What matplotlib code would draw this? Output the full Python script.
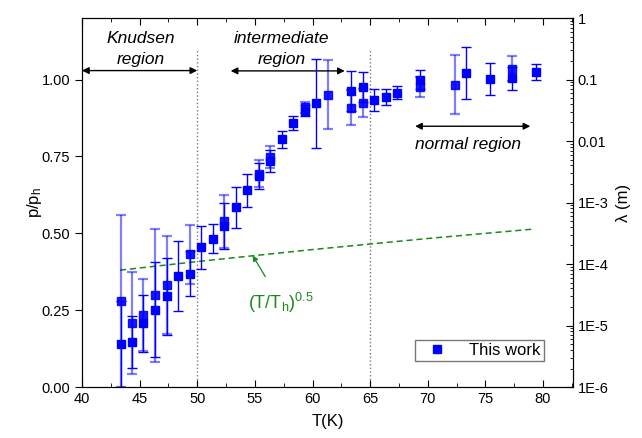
import matplotlib
matplotlib.use("Agg")
import matplotlib.pyplot as plt

plt.rcParams['font.family'] = ['Liberation Sans', 'DejaVu Sans']
plt.rcParams['mathtext.fontset'] = 'custom'
plt.rcParams['mathtext.rm'] = 'Liberation Sans'
plt.rcParams['mathtext.it'] = 'Liberation Sans:italic'

# first measurement set (solid error bars)
T_a = [43.36, 44.3, 45.3, 46.36, 47.35, 48.33, 49.35, 50.33, 51.34, 52.3,
       53.34, 54.35, 55.36, 56.35, 57.36, 58.35, 59.33, 60.34, 63.32, 64.36,
       65.37, 66.36, 67.34, 69.37, 73.36, 75.36, 77.35, 79.35]
p_a = [0.140, 0.147, 0.207, 0.252, 0.295, 0.361, 0.369, 0.454, 0.482, 0.523,
       0.584, 0.640, 0.686, 0.735, 0.805, 0.858, 0.899, 0.923, 0.964, 0.976,
       0.934, 0.943, 0.957, 0.999, 1.022, 1.002, 1.004, 1.024]
err_a = [0.140, 0.085, 0.092, 0.156, 0.125, 0.113, 0.073, 0.069, 0.047, 0.075,
         0.067, 0.054, 0.043, 0.035, 0.028, 0.022, 0.018, 0.145, 0.065, 0.048,
         0.035, 0.027, 0.022, 0.031, 0.084, 0.053, 0.038, 0.027]

# second measurement set (faded error bars)
T_b = [43.36, 44.3, 45.3, 46.36, 47.35, 49.35, 52.3, 55.36, 56.35, 59.33,
       61.35, 63.32, 64.36, 69.37, 72.35, 77.35]
p_b = [0.279, 0.207, 0.233, 0.298, 0.331, 0.431, 0.539, 0.694, 0.748, 0.910,
       0.951, 0.908, 0.924, 0.975, 0.983, 1.035]
err_b = [0.279, 0.166, 0.117, 0.217, 0.160, 0.097, 0.087, 0.043, 0.037, 0.018,
         0.113, 0.057, 0.045, 0.032, 0.096, 0.040]

# (T/Th)^0.5 guide line
T_sq = [43.3, 50.0, 60.0, 70.0, 79.3]
p_sq = [0.380, 0.408, 0.447, 0.483, 0.514]

blue = '#0000ff'
green = '#1a8a1a'

fig = plt.figure(figsize=(6.42, 4.38), dpi=100)
ax = fig.add_axes([0.1277, 0.1164, 0.7648, 0.8425])

ax.errorbar(T_b, p_b, yerr=err_b, fmt='none', ecolor=blue, alpha=0.5,
            elinewidth=1.6, capsize=3.5, capthick=1.6, zorder=2)
ax.plot(T_b, p_b, 's', color=blue, ms=6, alpha=0.9, zorder=3)
ax.errorbar(T_a, p_a, yerr=err_a, fmt='none', ecolor=blue,
            elinewidth=1.0, capsize=3.5, capthick=1.0, zorder=4)
ax.plot(T_a, p_a, 's', color=blue, ms=6, zorder=5, label='This work')

ax.plot(T_sq, p_sq, '--', color=green, lw=1.1, dashes=(4, 2.5), zorder=1)
ax.annotate('(T/T$_{\\rm h}$)$^{0.5}$', xy=(54.8, 0.428), xytext=(57.3, 0.272),
            color=green, fontsize=13, ha='center', va='center',
            arrowprops=dict(arrowstyle='-|>', color=green, lw=0.9,
                            mutation_scale=8, shrinkA=10, shrinkB=0))

# region boundaries
for tb in (50, 65):
    ax.plot([tb, tb], [0, 1.10], ':', color='#777777', lw=1.0, zorder=0)

arrow = dict(arrowstyle='<|-|>', color='black', lw=1.0, mutation_scale=10,
             shrinkA=0, shrinkB=0)
ax.annotate('', xy=(40, 1.029), xytext=(50, 1.029), arrowprops=arrow)
ax.annotate('', xy=(52.9, 1.028), xytext=(62.8, 1.028), arrowprops=arrow)
ax.annotate('', xy=(68.9, 0.848), xytext=(78.9, 0.848), arrowprops=arrow)
ax.text(45.1, 1.098, 'Knudsen\nregion', style='italic', fontsize=12.5,
        ha='center', va='center', linespacing=1.5)
ax.text(57.3, 1.098, 'intermediate\nregion', style='italic', fontsize=12.5,
        ha='center', va='center', linespacing=1.5)
ax.text(73.5, 0.79, 'normal region', style='italic', fontsize=12.5,
        ha='center', va='center')

ax.set_xlim(40, 82.6)
ax.set_ylim(0, 1.2)
ax.set_xticks([40, 45, 50, 55, 60, 65, 70, 75, 80])
ax.set_xticks([42.5, 47.5, 52.5, 57.5, 62.5, 67.5, 72.5, 77.5, 82.5], minor=True)
ax.set_yticks([0, 0.25, 0.5, 0.75, 1.0])
ax.set_yticklabels(['0.00', '0.25', '0.50', '0.75', '1.00'])
ax.tick_params(axis='x', which='both', direction='in', top=True, labelsize=10.5)
ax.tick_params(axis='x', which='major', length=5)
ax.tick_params(axis='x', which='minor', length=3)
ax.tick_params(axis='y', direction='out', length=5, labelsize=10.5)
ax.set_xlabel('T(K)', fontsize=12, labelpad=6)
ax.set_ylabel('p/p$_{\\rm h}$', fontsize=12, labelpad=-2)

ax2 = ax.twinx()
ax2.set_yscale('log')
ax2.set_ylim(1e-6, 1)
ax2.set_yticks([1e-6, 1e-5, 1e-4, 1e-3, 0.01, 0.1, 1])
ax2.set_yticklabels(['1E-6', '1E-5', '1E-4', '1E-3', '0.01', '0.1', '1'])
ax2.tick_params(axis='y', which='major', direction='in', length=5, labelsize=10.5)
ax2.tick_params(axis='y', which='minor', direction='in', length=2.5)
ax2.set_ylabel('λ (m)', fontsize=12, rotation=90, labelpad=5)

leg = ax.legend(loc='lower right', bbox_to_anchor=(0.94, 0.07), fontsize=12,
                frameon=True, fancybox=False, edgecolor='#555555',
                handlelength=2.2, handletextpad=0.8, borderpad=0.2,
                borderaxespad=0, markerscale=0.85)
leg.get_frame().set_linewidth(1.0)

fig.savefig('out.png', dpi=100)
